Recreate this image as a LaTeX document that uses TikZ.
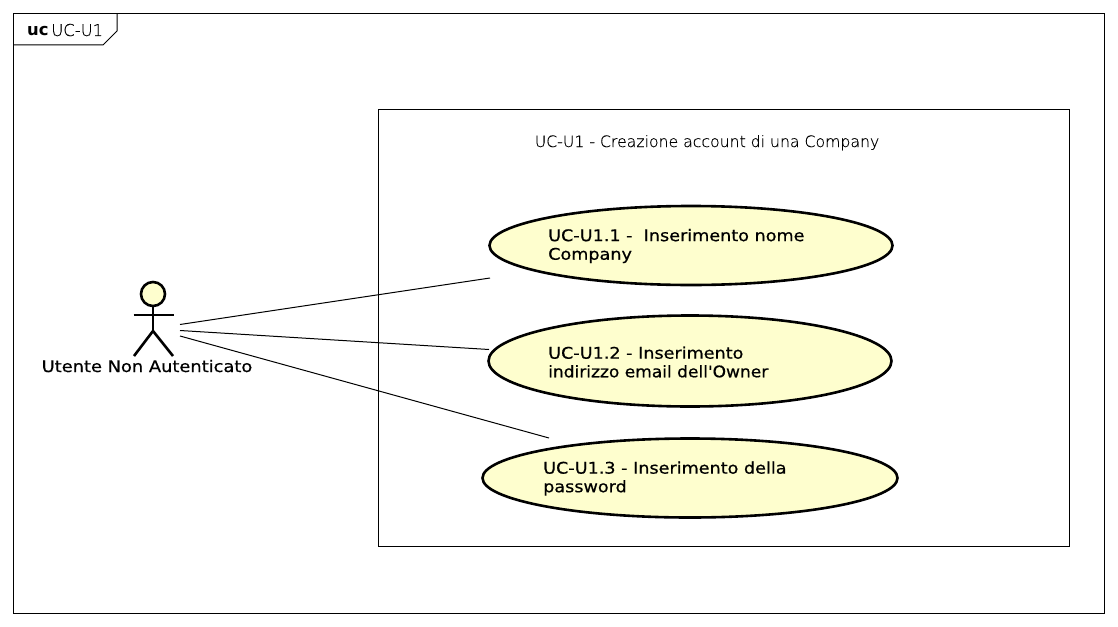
\documentclass[tikz,border=0pt]{standalone}
\usepackage{fontspec}
\setmainfont{DejaVu Sans}
\newfontfamily\lightfont[FakeBold=0.25]{DejaVu Sans ExtraLight}
\newfontfamily\widefont[FakeStretch=1.10,FakeBold=0.6]{DejaVu Sans}
\newfontfamily\tightfont[FakeStretch=1.065,FakeBold=0.6]{DejaVu Sans}
\usetikzlibrary{shapes.geometric}
\definecolor{ucfill}{HTML}{FEFECE}
\tikzset{
  x=1pt,y=-1pt,
  usecase/.style={ellipse,draw=black,fill=ucfill,line width=2.6pt,inner sep=0pt,outer sep=0pt},
  casetext/.style={anchor=west,align=left,inner sep=0pt,font=\fontsize{16}{18.6}\selectfont\widefont,text=black},
  frameline/.style={draw=black,line width=1pt},
  actorline/.style={draw=black,line width=2.6pt},
  assoc/.style={draw=black,line width=1pt},
}
\begin{document}
\begin{tikzpicture}
\useasboundingbox (0,0) rectangle (1118,626);
\node[frameline,minimum width=1091pt,minimum height=599.5pt,inner sep=0pt,outer sep=0pt,anchor=north west] (frame) at (13.5,13.5) {};
\coordinate (tabA) at (13.5,45);
\coordinate (tabB) at (103,45);
\coordinate (tabC) at (117,31);
\coordinate (tabD) at (117,13.5);
\draw[frameline] (tabA) -- (tabB) -- (tabC) -- (tabD);
\node[anchor=base west,inner sep=0pt,font=\fontsize{16.4}{18}\selectfont] (tabtext) at (27,36) {\textbf{uc}\,{\lightfont UC-U1}};
\node[frameline,minimum width=690.5pt,minimum height=436.5pt,inner sep=0pt,outer sep=0pt,anchor=north west] (system) at (378.5,109.5) {};
\node[anchor=base,inner sep=0pt,font=\fontsize{15.7}{18}\selectfont\lightfont] (systitle) at (707,147) {UC-U1 - Creazione account di una Company};
\node[usecase,minimum width=403pt,minimum height=79pt] (uc1) at (691,245.5) {};
\node[usecase,minimum width=403pt,minimum height=91pt] (uc2) at (690,361) {};
\node[usecase,minimum width=415pt,minimum height=79pt] (uc3) at (690,478) {};
\node[casetext] (t1) at (548,246) {UC-U1.1 -~~Inserimento nome\\Company};
\node[casetext] (t2) at (548,362) {UC-U1.2 - Inserimento\\{\tightfont indirizzo email dell\symbol{39}Owner}};
\node[casetext] (t3) at (543,478.5) {UC-U1.3 - Inserimento della\\password};
\node[circle,draw=black,fill=ucfill,line width=2.6pt,minimum size=24pt,inner sep=0pt,outer sep=0pt] (head) at (153,294) {};
\coordinate (hip) at (153,331);
\coordinate (armL) at (133.5,315);
\coordinate (armR) at (173.5,315);
\coordinate (footL) at (134,356);
\coordinate (footR) at (173,356);
\draw[actorline] (head.south) -- (hip);
\draw[actorline] (armL) -- (armR);
\draw[actorline] (footL) -- (hip) -- (footR);
\node[anchor=base,inner sep=0pt,font=\fontsize{16}{18}\selectfont\widefont] (actorname) at (147,372) {\addfontfeature{FakeStretch=1.115}Utente Non Autenticato};
\coordinate (a1) at (180,324.5);
\coordinate (a2) at (180,330.5);
\coordinate (a3) at (180,336);
\coordinate (e1) at (490,278);
\coordinate (e2) at (489,349.5);
\coordinate (e3) at (549,438);
\draw[assoc] (a1) -- (e1);
\draw[assoc] (a2) -- (e2);
\draw[assoc] (a3) -- (e3);
\end{tikzpicture}
\end{document}
